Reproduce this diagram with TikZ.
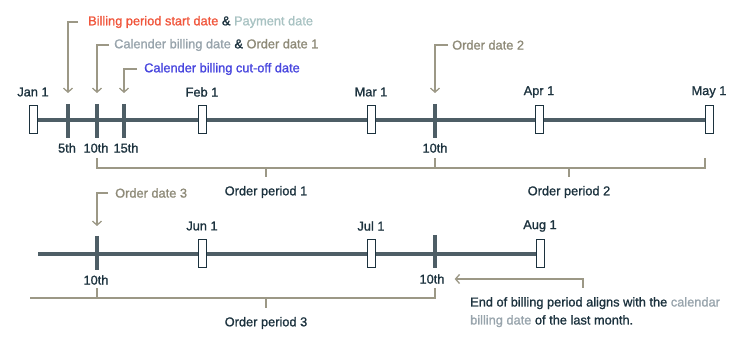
\documentclass[tikz,border=0pt]{standalone}
\usepackage{fontspec}
\setmainfont{Liberation Sans}
\newfontfamily\medfont{Liberation Sans}[FakeBold=1.2]
\usetikzlibrary{arrows.meta, positioning, calc}
\definecolor{lineslate}{RGB}{78, 94, 102}
\definecolor{inkdark}{RGB}{28, 50, 62}
\definecolor{calloutgray}{RGB}{156, 152, 134}
\definecolor{billred}{RGB}{240, 86, 60}
\definecolor{paymint}{RGB}{168, 194, 194}
\definecolor{calgray}{RGB}{152, 164, 172}
\definecolor{ordertan}{RGB}{142, 138, 120}
\definecolor{cutblue}{RGB}{72, 70, 222}

\begin{document}
\begin{tikzpicture}[x=1pt, y=-1pt, every node/.style={font=\medfont\fontsize{12.8}{14}\selectfont, text=inkdark, inner sep=0pt},
    monthbox/.style={draw=inkdark, fill=white, line width=1pt, minimum width=8pt, minimum height=28pt},
    dayline/.style={lineslate, line width=3.5pt},
    timeline/.style={lineslate, line width=3.5pt},
    callout/.style={calloutgray, line width=1.8pt, -{Straight Barb[length=4pt, width=9pt, line width=1.3pt]}},
    bracketline/.style={calloutgray, line width=1.8pt}]
        \useasboundingbox (0,0) rectangle (740,344);

        % first timeline
        \coordinate (jan) at (33,120);
        \coordinate (may) at (709,120);
        \draw[timeline] (jan) -- (may);
        \foreach \x/\nm in {68/fifth, 97/tenthA, 124/fifteenth, 435/tenthB}
          \draw[dayline] (\x,104) coordinate (\nm) -- (\x,138);
        \foreach \x/\nm/\txt in {33/jan/Jan 1, 202/feb/Feb 1, 371/mar/Mar 1, 539/apr/Apr 1, 709/may/May 1} {
          \node[monthbox] (\nm box) at (\x,120) {};
          \node (\nm lbl) at (\x,92) {\txt};
        }
        \node (fifthlbl) at (67,148) {5th};
        \node (tenthAlbl) at (96,148) {10th};
        \node (fifteenthlbl) at (126,148) {15th};
        \node (tenthBlbl) at (435,148) {10th};

        % callouts above
        \node[anchor=west] (startlbl) at (88,22) {\textcolor{billred}{Billing period start date} \& \textcolor{paymint}{Payment date}};
        \node[anchor=west] (callbl) at (114,45) {\textcolor{calgray}{Calender billing date} \& \textcolor{ordertan}{Order date 1}};
        \node[anchor=west] (cutlbl) at (144,69) {\textcolor{cutblue}{Calender billing cut-off date}};
        \node[anchor=west] (order2lbl) at (452,45) {\textcolor{ordertan}{Order date 2}};
        \draw[callout] ($(startlbl.west)+(-10,0)$) -| ($(fifth)+(0,-11)$);
        \draw[callout] ($(callbl.west)+(-5,0)$) -| ($(tenthA)+(0,-11)$);
        \draw[callout] ($(cutlbl.west)+(-7,0)$) -| ($(fifteenth)+(0,-11)$);
        \draw[callout] ($(order2lbl.west)+(-4,0)$) -| ($(tenthB)+(0,-11)$);

        % order periods 1 and 2
        \draw[bracketline] (97,158) -- (97,168) -- (705,168) -- (705,158);
        \draw[bracketline] (435,168) -- (435,158);
        \draw[bracketline] (266,168) -- (266,177);
        \draw[bracketline] (569,168) -- (569,177);
        \node (period1) at (266,192) {Order period 1};
        \node (period2) at (569,192) {Order period 2};

        % second timeline
        \coordinate (start2) at (38,254);
        \draw[timeline] (start2) -- (540,254);
        \draw[dayline] (97,236) coordinate (tenthC) -- (97,270);
        \draw[dayline] (435,235) coordinate (tenthD) -- (435,268);
        \foreach \x/\nm/\txt in {202/jun/Jun 1, 371/jul/Jul 1, 540/aug/Aug 1} {
          \node[monthbox] (\nm box) at (\x,254) {};
          \node (\nm lbl) at (\x,226) {\txt};
        }
        \node (tenthClbl) at (96,280) {10th};
        \node (tenthDlbl) at (432,279) {10th};
        \node[anchor=west] (order3lbl) at (115,193) {\textcolor{ordertan}{Order date 3}};
        \draw[callout] ($(order3lbl.west)+(-7,0)$) -| ($(tenthC)+(0,-10)$);

        % order period 3
        \draw[bracketline] (30,298) -- (435,298) -- (435,288);
        \draw[bracketline] (97,298) -- (97,288);
        \draw[bracketline] (266,298) -- (266,308);
        \node (period3) at (266,323) {Order period 3};

        % closing note
        \node[anchor=north west, align=left, font=\medfont\fontsize{12.8}{18}\selectfont] (note) at (470,297)
          {End of billing period aligns with the \textcolor{calgray}{calendar}\\
           \textcolor{calgray}{billing date} of the last month.};
        \draw[callout] (583,288) |- ($(tenthDlbl.east)+(10,0)$);
      \end{tikzpicture}
\end{document}
